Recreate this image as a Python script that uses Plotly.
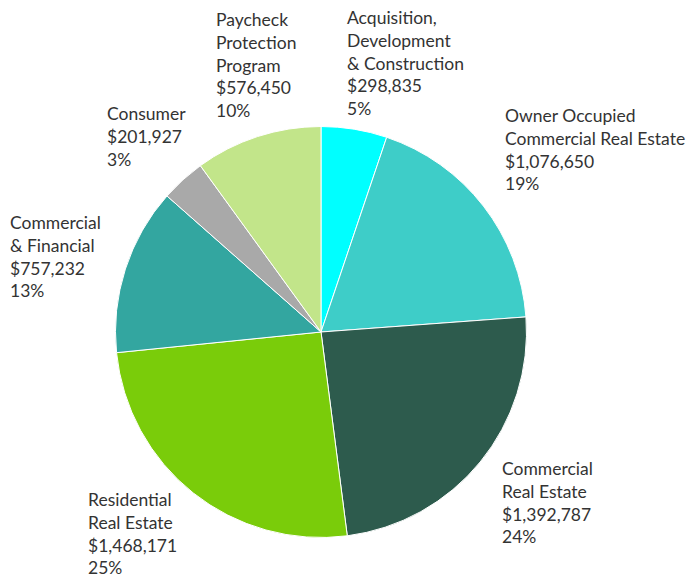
import plotly.graph_objects as go

categories = [
    "Acquisition,<br>Development<br>& Construction",
    "Owner Occupied<br>Commercial Real Estate",
    "Commercial<br>Real Estate",
    "Residential<br>Real Estate",
    "Commercial<br>& Financial",
    "Consumer",
    "Paycheck<br>Protection<br>Program",
]
values = [298835, 1076650, 1392787, 1468171, 757232, 201927, 576450]
pct_labels = ["5%", "19%", "24%", "25%", "13%", "3%", "10%"]
colors = ["#00FFFF", "#3ECDC8", "#2D5B4D", "#7ACC0A", "#33A6A0", "#A9A9A9", "#C2E58A"]

# label anchor positions (pixels from top-left) for each slice label
label_pos = [(345, 5), (503, 103), (500, 456), (86, 487), (8, 210), (105, 101), (214, 7)]

W, H = 690, 579
cx, cy, r = 321, 332, 205.5

fig = go.Figure(go.Pie(
    labels=[c.replace("<br>", " ") for c in categories],
    values=values,
    sort=False,
    direction="clockwise",
    rotation=0,
    marker=dict(colors=colors, line=dict(color="white", width=1)),
    textinfo="none",
    hoverinfo="label+value+percent",
    showlegend=False,
    domain=dict(x=[(cx - r) / W, (cx + r) / W], y=[(H - cy - r) / H, (H - cy + r) / H]),
))

for cat, val, pct, (px, py) in zip(categories, values, pct_labels, label_pos):
    fig.add_annotation(
        x=px / W, y=1 - py / H, xref="paper", yref="paper",
        xanchor="left", yanchor="top", align="left", showarrow=False,
        text=f"{cat}<br>${val:,}<br>{pct}",
        font=dict(family="Lato", size=17.5, color="#333333"),
    )

fig.update_layout(
    width=W, height=H,
    margin=dict(l=0, r=0, t=0, b=0),
    paper_bgcolor="white", plot_bgcolor="white",
)
fig.write_html(
    "out.html",
    config={"displayModeBar": False},
    post_script="document.body.style.margin='0';document.body.style.overflow='hidden';",
)
